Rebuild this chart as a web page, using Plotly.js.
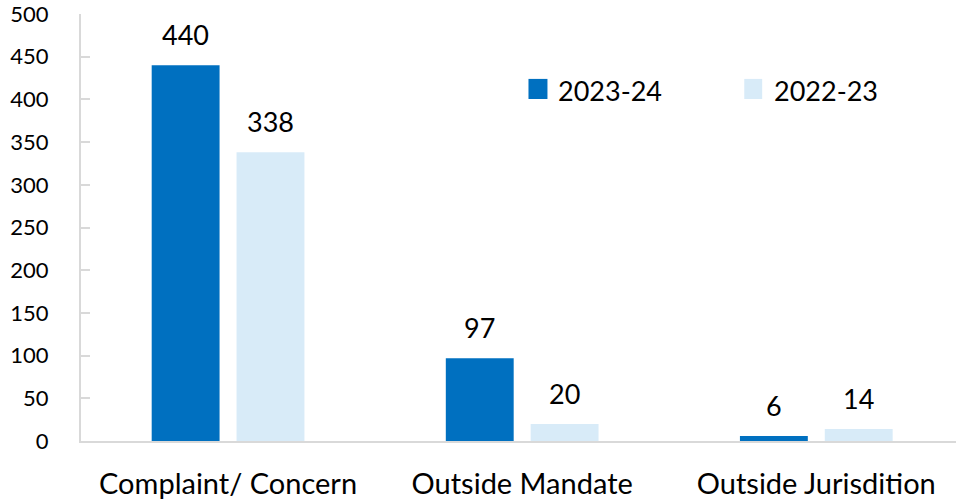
<!DOCTYPE html>
<html>
<head>
<meta charset="utf-8">
<script src="https://cdn.plot.ly/plotly-3.0.1.min.js"></script>
<style>html,body{margin:0;padding:0;background:#fff;}#chart{width:957px;height:499px;}</style>
</head>
<body>
<div id="chart"></div>
<script>
const categories = ["Complaint/ Concern", "Outside Mandate", "Outside Jurisdition"];
const seriesNames = ["2023-24", "2022-23"];
const values2324 = [440, 97, 6];
const values2223 = [338, 20, 14];
const yTicks = [0, 50, 100, 150, 200, 250, 300, 350, 400, 450, 500];

const colors = ["#0070C0", "#D8EBF8"];
const FONT = "Lato, 'Open Sans', sans-serif";
const allSeries = [values2324, values2223];

const traces = allSeries.map((vals, i) => ({
  type: "bar",
  x: categories,
  y: vals,
  name: seriesNames[i],
  marker: {color: colors[i], line: {width: 0}},
  showlegend: false,
  hoverinfo: "x+y"
}));

// data labels above bars (offset to the bar position inside its group)
const barOffsetPx = [-42.5, 42.5];
const annotations = [];
allSeries.forEach((vals, i) => {
  vals.forEach((v, j) => {
    annotations.push({
      x: categories[j], y: v, xref: "x", yref: "y",
      xshift: barOffsetPx[i], yshift: 12,
      xanchor: "center", yanchor: "bottom", showarrow: false,
      text: String(v), font: {family: FONT, size: 27, color: "#000"}
    });
  });
});

// custom legend (larger swatches like the reference)
const legendX = [[0.5114, 0.5331, 0.5434], [0.758, 0.7785, 0.790]];
const shapes = legendX.map((p, i) => ({
  type: "rect", xref: "paper", yref: "paper",
  x0: p[0], x1: p[1], y0: 0.801, y1: 0.848,
  fillcolor: colors[i], line: {width: 0}
}));
legendX.forEach((p, i) => annotations.push({
  xref: "paper", yref: "paper", x: p[2], y: 0.822,
  xanchor: "left", yanchor: "middle", showarrow: false,
  text: seriesNames[i], font: {family: FONT, size: 27, color: "#000"}
}));

const layout = {
  width: 957, height: 499,
  margin: {l: 81, r: 1, t: 14, b: 58, pad: 0},
  paper_bgcolor: "#fff", plot_bgcolor: "#fff",
  barmode: "group", bargap: 0.423, bargroupgap: 0.2,
  font: {family: FONT, color: "#000"},
  xaxis: {
    type: "category", range: [-0.5, 2.475],
    showline: true, linecolor: "#D9D9D9", linewidth: 2,
    ticks: "", showgrid: false, zeroline: false,
    tickfont: {family: FONT, size: 29, color: "#000"},
    ticklabelstandoff: 16
  },
  yaxis: {
    range: [0, 500], tickvals: yTicks, ticktext: yTicks.map(String),
    showline: true, linecolor: "#D9D9D9", linewidth: 2,
    ticks: "inside", ticklen: 9, tickcolor: "#D9D9D9", tickwidth: 2,
    showgrid: false, zeroline: false,
    tickfont: {family: FONT, size: 22, color: "#000"},
    ticklabelstandoff: 26, ticklabeloverflow: "allow"
  },
  shapes: shapes,
  annotations: annotations
};

Plotly.newPlot("chart", traces, layout, {displayModeBar: false, staticPlot: true});
</script>
</body>
</html>
